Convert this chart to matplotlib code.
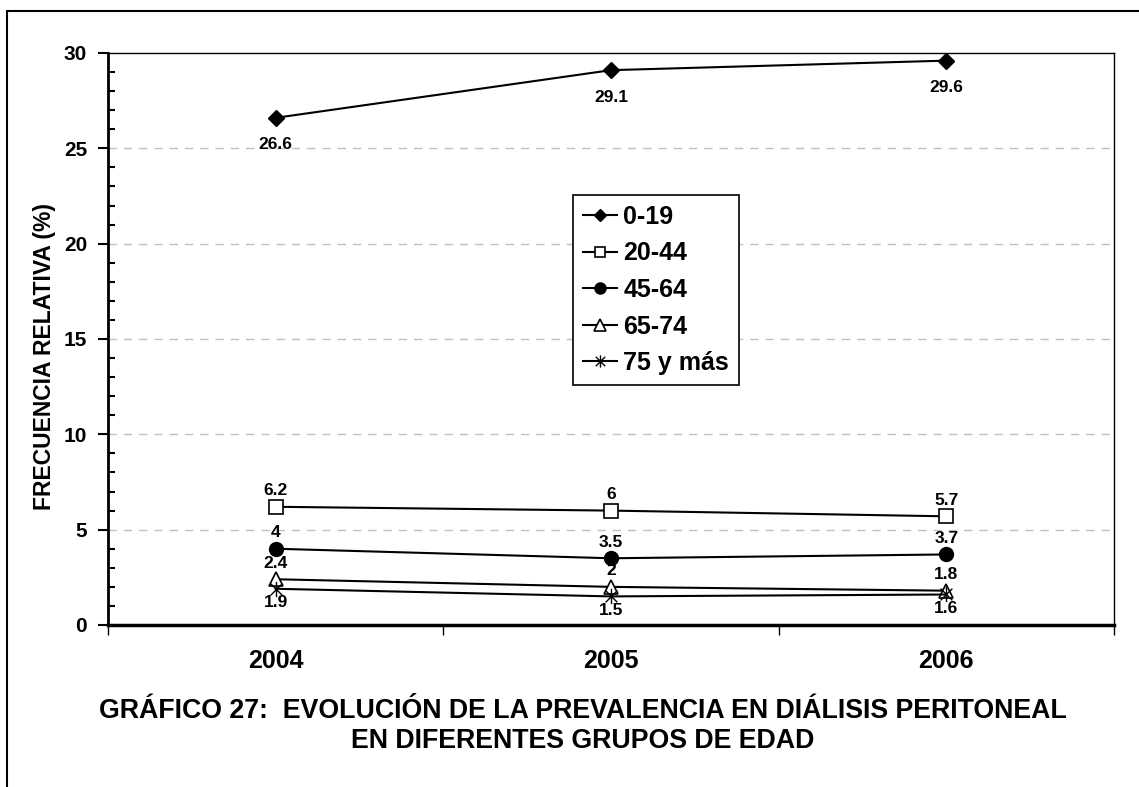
import matplotlib.pyplot as plt
from matplotlib.path import Path
from matplotlib.ticker import MultipleLocator

plt.rcParams['font.family'] = ['Liberation Sans', 'DejaVu Sans']
plt.rcParams['font.weight'] = 'bold'

# data
years = ['2004', '2005', '2006']
grupos = ['0-19', '20-44', '45-64', '65-74', '75 y más']
v_0_19 = [26.6, 29.1, 29.6]
v_20_44 = [6.2, 6.0, 5.7]
v_45_64 = [4.0, 3.5, 3.7]
v_65_74 = [2.4, 2.0, 1.8]
v_75 = [1.9, 1.5, 1.6]
etiquetas = [['26.6', '29.1', '29.6'], ['6.2', '6', '5.7'], ['4', '3.5', '3.7'],
             ['2.4', '2', '1.8'], ['1.9', '1.5', '1.6']]

# star marker like Excel: X plus a vertical stroke
star = Path([(-1, -1), (1, 1), (-1, 1), (1, -1), (0, -1.3), (0, 1.3)],
            [Path.MOVETO, Path.LINETO, Path.MOVETO, Path.LINETO, Path.MOVETO, Path.LINETO])

estilos = [
    dict(marker='D', mfc='black', ms=8),
    dict(marker='s', mfc='white', ms=9.5, mew=1.2),
    dict(marker='o', mfc='black', ms=10),
    dict(marker='^', mfc='white', ms=10, mew=1.2),
    dict(marker=star, mfc='none', ms=11, mew=1.0),
]
series = [v_0_19, v_20_44, v_45_64, v_65_74, v_75]
# label offset in points: below (-) or above (+)
offs = [-19.5, 11.5, 11.5, 11.5, -10]

fig = plt.figure(figsize=(11.39, 7.87), dpi=100)
ax = fig.add_axes([108 / 1139, 1 - 625 / 787, (1114 - 108) / 1139, (625 - 53) / 787])

x = list(range(len(years)))
for vals, st, lab, off, txt in zip(series, estilos, grupos, offs, etiquetas):
    ax.plot(x, vals, color='black', lw=1.5, mec='black', label=lab, zorder=3, **st)
    for xi, v, t in zip(x, vals, txt):
        ax.annotate(t, (xi, v), xytext=(0, off), textcoords='offset points',
                    ha='center', va='center', fontsize=12.5, fontweight='bold', zorder=4)

ax.set_xlim(-0.5, 2.5)
ax.set_ylim(0, 30)
ax.set_xticks([-0.5, 0.5, 1.5, 2.5])
ax.set_xticklabels([])
ax.set_xticks(x, minor=True)
ax.set_xticklabels(years, minor=True, fontsize=18, fontweight='bold')
ax.tick_params(axis='x', which='major', direction='out', length=7, width=1)
ax.tick_params(axis='x', which='minor', length=0, pad=17)
ax.yaxis.set_major_locator(MultipleLocator(5))
ax.yaxis.set_minor_locator(MultipleLocator(1))
ax.tick_params(axis='y', which='major', direction='out', length=7, width=1.5, labelsize=15, pad=8)
ax.tick_params(axis='y', which='minor', direction='in', length=5, width=1.5)
for lbl in ax.get_yticklabels():
    lbl.set_fontweight('bold')

for yv in [5, 10, 15, 20, 25]:
    ax.axhline(yv, color='#c0c0c0', lw=1, ls=(0, (6, 5)), zorder=1)

ax.spines['left'].set_linewidth(2)
ax.spines['bottom'].set_linewidth(2.5)
ax.spines['top'].set_linewidth(1)
ax.spines['right'].set_linewidth(1)

ax.set_ylabel('FRECUENCIA RELATIVA (%)', fontsize=16.5, fontweight='bold', va='center')
ax.yaxis.set_label_coords((44 - 108) / 1006, 0.47)

leg = ax.legend(loc='upper left', bbox_to_anchor=(573 / 1139, 1 - 195 / 787),
                bbox_transform=fig.transFigure, frameon=True, fancybox=False,
                edgecolor='black', framealpha=1, prop={'size': 18, 'weight': 'bold'},
                handlelength=1.36, handletextpad=0.25, labelspacing=0.5,
                borderpad=0.4, borderaxespad=0, markerscale=0.8)
leg.get_frame().set_linewidth(1.2)

fig.text(583 / 1139, 1 - 711 / 787, 'GRÁFICO 27:  EVOLUCIÓN DE LA PREVALENCIA EN DIÁLISIS PERITONEAL',
         ha='center', va='center', fontsize=19.3, fontweight='bold')
fig.text(583 / 1139, 1 - 741 / 787, 'EN DIFERENTES GRUPOS DE EDAD',
         ha='center', va='center', fontsize=19.3, fontweight='bold')

# outer frame
fig.add_artist(plt.Rectangle((7 / 1139, -0.01), 1.1, 1 - 11 / 787 + 0.01, transform=fig.transFigure,
                             fill=False, edgecolor='black', lw=1.5))

fig.savefig('out.png', dpi=100)
